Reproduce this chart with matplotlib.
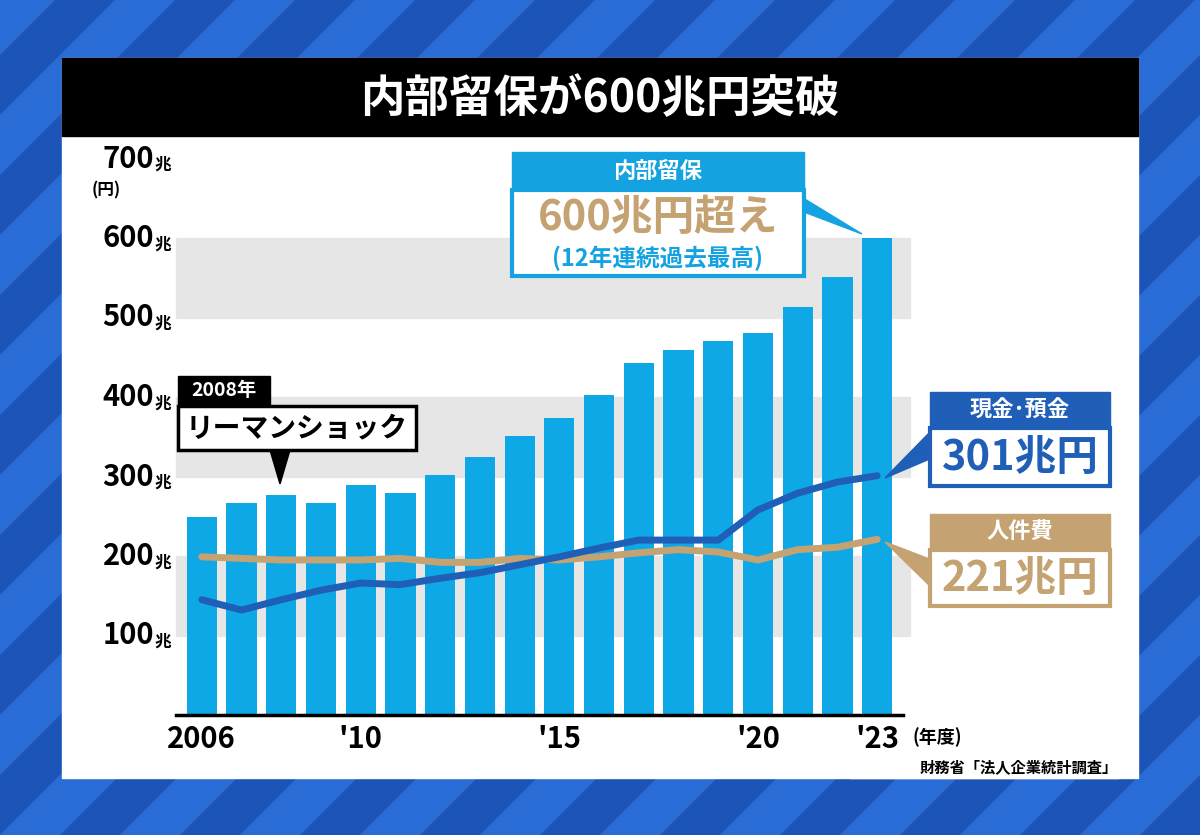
import matplotlib
matplotlib.use("Agg")
import matplotlib.pyplot as plt
from matplotlib.patches import Rectangle, Polygon
import numpy as np

plt.rcParams['font.family'] = ['Noto Sans CJK JP', 'DejaVu Sans']

years = list(range(2006, 2024))
reserves = [249, 267, 277, 267, 289, 279, 302, 325, 351, 374, 403, 443, 459, 470, 481, 513, 551, 600]
cash = [145, 132, 145, 157, 166, 164, 172, 179, 189, 199, 210, 220, 220, 220, 258, 279, 293, 301]
labor = [199, 197, 195, 195, 195, 197, 192, 192, 197, 195, 199, 204, 208, 205, 195, 208, 211, 221]
xtick_years = [2006, 2010, 2015, 2020, 2023]
xtick_labels = ['2006', "'10", "'15", "'20", "'23"]
ytick_vals = [100, 200, 300, 400, 500, 600, 700]

W, H = 1200, 835
fig = plt.figure(figsize=(12, 8.35), dpi=100)
bg = fig.add_axes([0, 0, 1, 1], zorder=0)
bg.set_xlim(0, W); bg.set_ylim(H, 0); bg.axis('off')
bg.add_patch(Rectangle((0, 0), W, H, color='#1d54b8'))
for k in range(-10, 20):
    x0 = k * 120
    bg.add_patch(Polygon([(x0, H), (x0 + 60, H), (x0 + 60 + H, 0), (x0 + H, 0)], color='#2a6cd6', lw=0))
bg.add_patch(Rectangle((62, 58), 1076, 720, color='white'))
bg.add_patch(Rectangle((62, 58), 1076, 78, color='black'))
bg.text(600, 99, '内部留保が600兆円突破', color='white', fontsize=32, fontweight='bold', ha='center', va='center')
bg.add_patch(Rectangle((850, 756), 268, 22, color='white'))
bg.text(1118, 767, '財務省「法人企業統計調査」', fontsize=11, ha='right', va='center', fontweight='bold')

ax = fig.add_axes([176 / W, (H - 715) / H, 727 / W, 556.5 / H], zorder=1)
ax.set_xlim(-0.65, 17.65); ax.set_ylim(0, 700)
ax.patch.set_alpha(0)
for s in ['top', 'right', 'left']:
    ax.spines[s].set_visible(False)
ax.spines['bottom'].set_linewidth(2.5)
for lo in (100, 300, 500):
    ax.axhspan(lo, lo + 100, xmin=0, xmax=1.01, color='#e6e6e6', zorder=0, clip_on=False)
idx = np.arange(len(years))
ax.bar(idx, reserves, width=0.76, color='#0fa8e6', zorder=2)
ax.plot(idx, labor, color='#c4a272', lw=5, zorder=3, solid_capstyle='round')
ax.plot(idx, cash, color='#1f5fb8', lw=5, zorder=4, solid_capstyle='round')
ax.set_yticks([]); ax.set_xticks([])
for v in ytick_vals:
    ax.text(-1.2, v, f'{v}', fontsize=21, fontweight='bold', ha='right', va='center', clip_on=False)
    ax.text(-1.2, v - 8, '兆', fontsize=12, fontweight='bold', ha='left', va='center', clip_on=False)
ax.text(-2.4, 660, '(円)', fontsize=12, fontweight='bold', ha='center', va='center', clip_on=False)
for y, l in zip(xtick_years, xtick_labels):
    ax.text(y - 2006, -30, l, fontsize=21, fontweight='bold', ha='center', va='center', clip_on=False)
ax.text(18.5, -28, '(年度)', fontsize=13, fontweight='bold', ha='center', va='center', clip_on=False)

ov = fig.add_axes([0, 0, 1, 1], zorder=2)
ov.set_xlim(0, W); ov.set_ylim(H, 0); ov.axis('off'); ov.patch.set_alpha(0)

ov.add_patch(Polygon([(790, 190), (804, 212), (862, 234)], color='#14a3e0', zorder=4))
ov.add_patch(Rectangle((512, 152), 292, 38, color='#14a3e0', zorder=5))
ov.text(658, 171, '内部留保', color='white', fontsize=16, fontweight='bold', ha='center', va='center', zorder=6)
ov.add_patch(Rectangle((512, 190), 292, 86, fc='white', ec='#14a3e0', lw=3, zorder=5))
ov.text(658, 218, '600兆円超え', color='#c4a272', fontsize=30, fontweight='bold', ha='center', va='center', zorder=6)
ov.text(658, 258, '(12年連続過去最高)', color='#14a3e0', fontsize=17, fontweight='bold', ha='center', va='center', zorder=6)

ov.add_patch(Polygon([(932, 430), (932, 458), (885, 478)], color='#1f5fb8', zorder=4))
ov.add_patch(Rectangle((930, 392), 180, 36, color='#1f5fb8', zorder=5))
ov.text(1020, 410, '現金･預金', color='white', fontsize=16, fontweight='bold', ha='center', va='center', zorder=6)
ov.add_patch(Rectangle((930, 428), 180, 58, fc='white', ec='#1f5fb8', lw=3, zorder=5))
ov.text(1020, 458, '301兆円', color='#1f5fb8', fontsize=30, fontweight='bold', ha='center', va='center', zorder=6)

ov.add_patch(Polygon([(932, 560), (932, 588), (885, 542)], color='#c4a272', zorder=4))
ov.add_patch(Rectangle((930, 514), 180, 36, color='#c4a272', zorder=5))
ov.text(1020, 532, '人件費', color='white', fontsize=16, fontweight='bold', ha='center', va='center', zorder=6)
ov.add_patch(Rectangle((930, 550), 180, 56, fc='white', ec='#c4a272', lw=3, zorder=5))
ov.text(1020, 579, '221兆円', color='#c4a272', fontsize=30, fontweight='bold', ha='center', va='center', zorder=6)

ov.add_patch(Rectangle((178, 376), 92, 30, color='black', zorder=5))
ov.text(224, 391, '2008年', color='white', fontsize=14, fontweight='bold', ha='center', va='center', zorder=6)
ov.add_patch(Rectangle((178, 406), 238, 44, fc='white', ec='black', lw=2.5, zorder=5))
ov.text(297, 428, 'リーマンショック', color='black', fontsize=20, fontweight='bold', ha='center', va='center', zorder=6)
ov.add_patch(Polygon([(270, 450), (290, 450), (280, 484)], color='black', zorder=6))

fig.savefig('out.png', dpi=100)
